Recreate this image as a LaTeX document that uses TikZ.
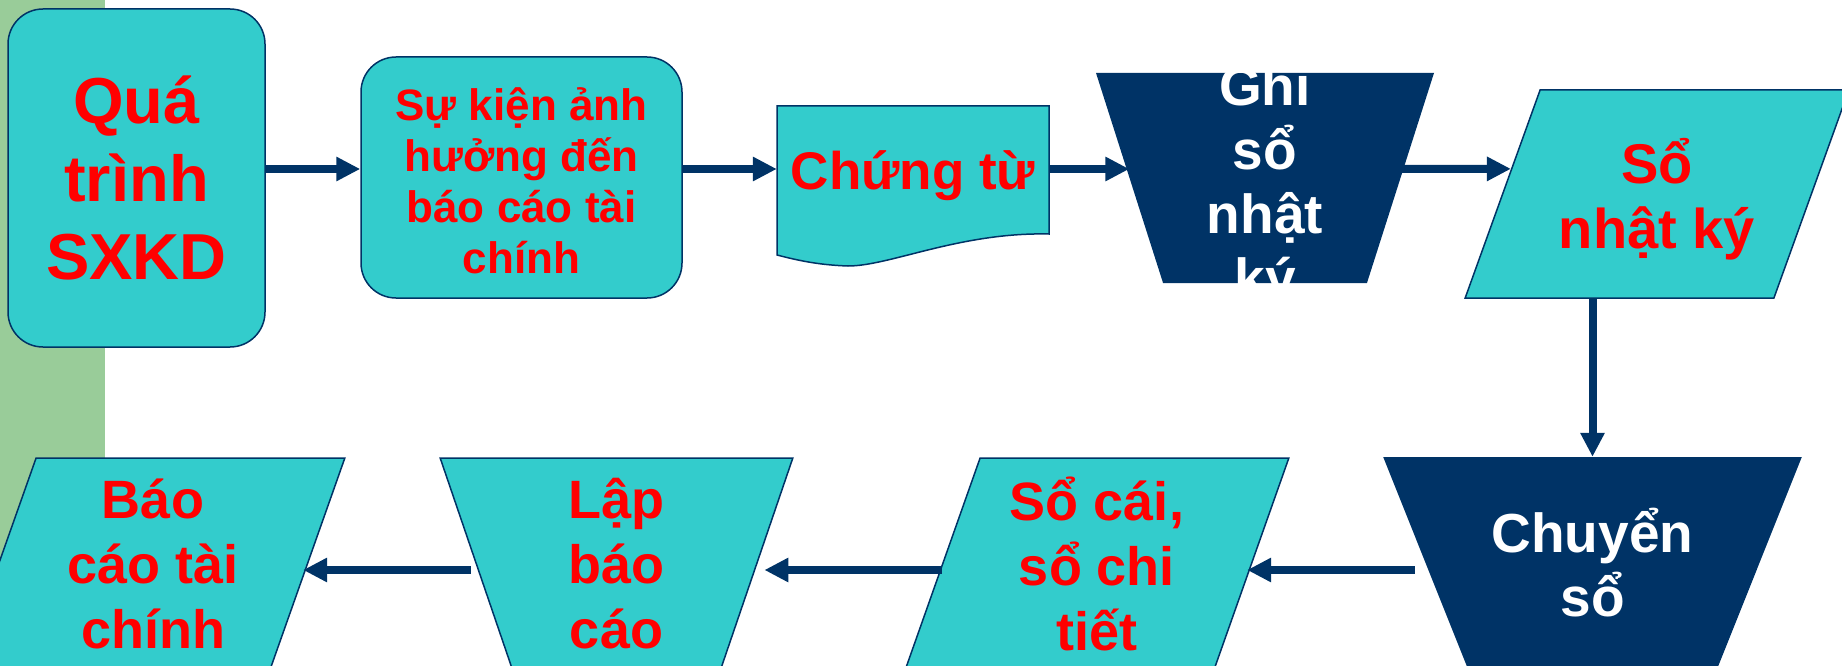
\documentclass[tikz,border=0pt]{standalone}
\usepackage{fontspec}
\setmainfont{Liberation Sans}
\usetikzlibrary{shapes.geometric, arrows.meta, calc}

\definecolor{boxcyan}{HTML}{33CCCC}
\definecolor{navy}{HTML}{003366}
\definecolor{stripgreen}{HTML}{99CC99}

\tikzset{
    box/.style={draw=navy, line width=1.5pt, fill=boxcyan, inner sep=4pt},
    dark/.style={fill=navy, inner sep=4pt},
    txt/.style 2 args={font=\bfseries\fontsize{#1}{#2}\selectfont, align=center, inner sep=0pt},
    io/.style={trapezium, trapezium left angle=72.23, trapezium right angle=107.77,
        trapezium stretches=true, minimum width=384pt},
    manual/.style={trapezium, shape border rotate=180, trapezium stretches=true,
        trapezium left angle=#1, trapezium right angle=#1},
    flow/.style={draw=navy, line width=8pt, -{Triangle[length=24pt, width=23pt]}},
}

\begin{document}
\begin{tikzpicture}[x=1pt, y=-1pt]
    \useasboundingbox (0,0) rectangle (1842,666);
    \fill[stripgreen] (0,0) rectangle (105,666);

    \coordinate (row1) at (0,169);
    \coordinate (row2) at (0,570);

    % top row, left to right
    \node[box, rounded corners=35pt, minimum width=257pt, minimum height=338pt] (qt) at (136.5,178) {};
    \node[box, rounded corners=35pt, minimum width=321pt, minimum height=241pt] (sk) at (521.5,177.5) {};
    \path[box] (777,106) -- (1049,106) -- (1049,234)
        .. controls (960,232) and (890,266) .. (848,266)
        .. controls (820,265) and (800,261) .. (777,255) -- cycle;
    \node[minimum width=272pt, minimum height=128pt, inner sep=0pt] (ct) at (913,170) {};
    \node[dark, manual=71.8, minimum width=338pt, minimum height=210pt] (gs) at (1265,178) {};
    \node[box, io, minimum height=208pt] (snk) at (1657,194) {};

    % bottom row, right to left
    \node[dark, manual=70.8, minimum width=419pt, minimum height=215pt] (cs) at (1592.5,564.5) {};
    \node[box, io, minimum height=212pt] (sc) at (1097,564) {};
    \node[box, manual=70.8, minimum width=353pt, minimum height=212pt] (lbc) at (616.5,564) {};
    \node[box, io, minimum height=212pt] (bc) at (153,564) {};

    \node[txt={65}{78}, text=red] (qt-text) at (136.5,178) {Quá\\trình\\SXKD};
    \node[txt={44}{51}, text=red] (sk-text) at (521.5,181) {Sự kiện ảnh\\hưởng đến\\báo cáo tài\\chính};
    \node[txt={53}{63}, text=red] (ct-text) at (913,176) {Chứng từ};
    \node[txt={55}{64}, text=white] (gs-text) at (1265,187) {Ghi\\sổ\\nhật\\ký};
    \node[txt={56}{65}, text=red] (snk-text) at (1657,199) {Sổ\\nhật ký};
    \node[txt={55}{64}, text=white] (cs-text) at (1592.5,563) {Chuyển\\sổ};
    \node[txt={54}{65}, text=red] (sc-text) at (1097,564) {Sổ cái,\\sổ chi\\tiết};
    \node[txt={54}{65}, text=red] (lbc-text) at (616.5,564) {Lập\\báo\\cáo};
    \node[txt={54}{65}, text=red] (bc-text) at (153,564) {Báo\\cáo tài\\chính};

    \draw[flow] (qt.east |- row1) -- (sk.west |- row1);
    \draw[flow] (sk.east |- row1) -- (ct.west |- row1);
    \draw[flow] (ct.east |- row1) -- (gs.west |- row1);
    \draw[flow] (gs.east |- row1) -- ($(snk.bottom left corner)!0.62!(snk.top left corner)$);
    \draw[flow] (snk.south -| cs.north) -- (cs.north);
    \draw[flow, shorten <=11pt, shorten >=-5pt] (cs.west |- row2) -- (sc.east |- row2);
    \draw[flow, shorten >=7pt] (sc.west |- row2) -- (lbc.east |- row2);
    \draw[flow, shorten <=5pt, shorten >=-5pt] (lbc.west |- row2) -- (bc.east |- row2);
\end{tikzpicture}
\end{document}
